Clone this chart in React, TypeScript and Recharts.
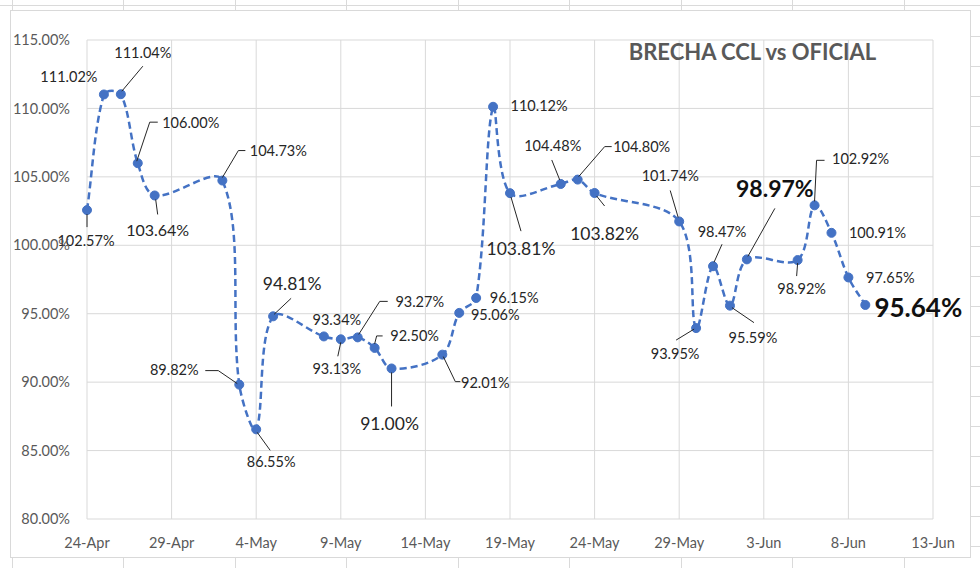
import { CartesianGrid, Line, LineChart, XAxis, YAxis } from 'recharts';

// trading days (2023) and CCL vs official gap, in %
const dates = [
  '2023-04-24', '2023-04-25', '2023-04-26', '2023-04-27', '2023-04-28',
  '2023-05-02', '2023-05-03', '2023-05-04', '2023-05-05',
  '2023-05-08', '2023-05-09', '2023-05-10', '2023-05-11', '2023-05-12',
  '2023-05-15', '2023-05-16', '2023-05-17', '2023-05-18', '2023-05-19',
  '2023-05-22', '2023-05-23', '2023-05-24',
  '2023-05-29', '2023-05-30', '2023-05-31', '2023-06-01', '2023-06-02',
  '2023-06-05', '2023-06-06', '2023-06-07', '2023-06-08', '2023-06-09',
];
const brecha = [
  102.57, 111.02, 111.04, 106.0, 103.64,
  104.73, 89.82, 86.55, 94.81,
  93.34, 93.13, 93.27, 92.5, 91.0,
  92.01, 95.06, 96.15, 110.12, 103.81,
  104.48, 104.8, 103.82,
  101.74, 93.95, 98.47, 95.59, 98.97,
  98.92, 102.92, 100.91, 97.65, 95.64,
];
const yTicks = [80, 85, 90, 95, 100, 105, 110, 115];
const xTicks = [0, 5, 10, 15, 20, 25, 30, 35, 40, 45, 50];
const monthNames = ['Jan', 'Feb', 'Mar', 'Apr', 'May', 'Jun', 'Jul', 'Aug', 'Sep', 'Oct', 'Nov', 'Dec'];
const title = 'BRECHA CCL vs OFICIAL';

const DAY = 86400000;
const start = Date.parse(dates[0] + 'T00:00:00Z');
const data = dates.map((d, i) => ({
  day: Math.round((Date.parse(d + 'T00:00:00Z') - start) / DAY),
  v: brecha[i],
}));

// label placement, like the hand-moved excel labels (offsets from the point)
type LabelPos = { dx: number; dy: number; fs?: number; bold?: boolean; lead?: number[]; tail?: number };
const labelPos: LabelPos[] = [
  { dx: -1, dy: 30, lead: [0, 4, 0, 17] },
  { dx: -35, dy: -18 },
  { dx: 22, dy: -42, lead: [1, -3, 22, -28] },
  { dx: 53, dy: -41, lead: [-1, -2, 12, -41], tail: 20 },
  { dx: 3, dy: 34, fs: 16, lead: [1, 4, 3, 19] },
  { dx: 56, dy: -30, lead: [0, -3, 16, -30], tail: 23 },
  { dx: -65, dy: -15, lead: [-2, -1, -21, -14], tail: -34 },
  { dx: 15, dy: 32, lead: [1, 3, 14, 21] },
  { dx: 19, dy: -33, fs: 17.5, lead: [1, -2, 18, -18] },
  { dx: 13, dy: -17 },
  { dx: -4, dy: 29, lead: [0, 3, -3, 17] },
  { dx: 62, dy: -36, lead: [1, -3, 22, -36], tail: 30 },
  { dx: 40, dy: -12, lead: [0, -4, 2, -12], tail: 8 },
  { dx: -2, dy: 55, fs: 17.5, lead: [0, 4, 0, 38] },
  { dx: 43, dy: 28, lead: [1, 2, 13, 27], tail: 18 },
  { dx: 36, dy: 2 },
  { dx: 38, dy: 0 },
  { dx: 46, dy: -1 },
  { dx: 11, dy: 55, fs: 17.5, lead: [1, 4, 11, 38] },
  { dx: -8, dy: -38, lead: [-1, -4, -9, -24] },
  { dx: 64, dy: -33, lead: [1, -3, 27, -33], tail: 34 },
  { dx: 10, dy: 40, fs: 17.5, lead: [2, 3, 10, 13] },
  { dx: -9, dy: -46, lead: [-1, -4, -9, -31] },
  { dx: -21, dy: 25, lead: [-2, 1, -20, 12] },
  { dx: 9, dy: -35, lead: [1, -4, 9, -22] },
  { dx: 23, dy: 32, lead: [2, 2, 24, 17] },
  { dx: 28, dy: -71, fs: 23, bold: true, lead: [1, -3, 28, -51] },
  { dx: 4, dy: 28, lead: [0, 3, -1, 16] },
  { dx: 46, dy: -47, lead: [0, -4, 2, -45], tail: 10 },
  { dx: 46, dy: 0 },
  { dx: 42, dy: 0 },
  { dx: 53, dy: 2, fs: 26, bold: true },
];

const FONT = 'Lato, "Open Sans", sans-serif';
const BLUE = '#4472C4';
const LABEL_FS = 14.5;

// excel-like smoothed line: tangent through neighbours, split by segment length
const smoothCurve = (context: any) => {
  let pts: number[][] = [];
  return {
    areaStart() {},
    areaEnd() {},
    lineStart() {
      pts = [];
    },
    lineEnd() {
      if (!pts.length) return;
      const n = pts.length;
      const dist = (a: number[], b: number[]) => Math.hypot(b[0] - a[0], b[1] - a[1]);
      // out / in control points for each point
      const outC: number[][] = [];
      const inC: number[][] = [];
      for (let i = 0; i < n; i++) {
        const prev = pts[i - 1] || pts[i];
        const next = pts[i + 1] || pts[i];
        const tx = next[0] - prev[0];
        const ty = next[1] - prev[1];
        const dPrev = i > 0 ? dist(prev, pts[i]) : 0;
        const dNext = i < n - 1 ? dist(pts[i], next) : 0;
        const sum = dPrev + dNext || 1;
        const fo = (dNext / sum) / 3;
        const fi = (dPrev / sum) / 3;
        outC.push([pts[i][0] + tx * fo, pts[i][1] + ty * fo]);
        inC.push([pts[i][0] - tx * fi, pts[i][1] - ty * fi]);
      }
      context.moveTo(pts[0][0], pts[0][1]);
      for (let i = 0; i < n - 1; i++) {
        context.bezierCurveTo(outC[i][0], outC[i][1], inC[i + 1][0], inC[i + 1][1], pts[i + 1][0], pts[i + 1][1]);
      }
    },
    point(x: number, y: number) {
      pts.push([+x, +y]);
    },
  };
};

const fmtDay = (d: number) => {
  const dt = new Date(start + d * DAY);
  return `${dt.getUTCDate()}-${monthNames[dt.getUTCMonth()]}`;
};

const DotWithLabel = (props: any) => {
  const { cx, cy, index, value } = props;
  const p = labelPos[index] || { dx: 0, dy: -15 };
  const val = Array.isArray(value) ? value[1] : value;
  const lead = p.lead;
  return (
    <g key={`pt-${index}`}>
      <circle cx={cx} cy={cy} r={4.5} fill={BLUE} stroke={BLUE} />
      {lead && (
        <polyline
          points={
            `${cx + lead[0]},${cy + lead[1]} ${cx + lead[2]},${cy + lead[3]}` +
            (p.tail !== undefined ? ` ${cx + p.tail},${cy + lead[3]}` : '')
          }
          fill="none"
          stroke="#262626"
          strokeWidth={1}
        />
      )}
      <text
        x={cx + p.dx}
        y={cy + p.dy}
        textAnchor="middle"
        dominantBaseline="central"
        fontFamily={FONT}
        fontSize={p.fs || LABEL_FS}
        fontWeight={p.bold ? 700 : 400}
        fill={p.bold ? '#111' : '#262626'}
      >
        {val.toFixed(2)}%
      </text>
    </g>
  );
};

const colLines = [12, 123, 235, 346, 458, 569, 681, 792, 904];
const rowLines = [36, 66, 96, 126, 156, 186, 216, 246, 276, 306, 336, 366, 396, 426, 456, 486, 516, 546];

export default function App() {
  return (
    <div style={{ position: 'absolute', left: 0, top: 0, width: 980, height: 568, background: '#fff', overflow: 'hidden' }}>
      {/* spreadsheet cells behind the chart */}
      <div style={{ position: 'absolute', left: 0, top: 5, width: 980, height: 1, background: '#dadada' }} />
      {colLines.map((x) => (
        <div key={`c${x}`} style={{ position: 'absolute', left: x, top: 0, width: 1, height: 568, background: '#dadada' }} />
      ))}
      {rowLines.map((y) => (
        <div key={`r${y}`} style={{ position: 'absolute', left: 960, top: y, width: 20, height: 1, background: '#dadada' }} />
      ))}
      <div
        style={{
          position: 'absolute', left: 10, top: 10, width: 959, height: 546,
          border: '1px solid #d9d9d9', background: '#fff',
        }}
      />
      <div style={{ position: 'absolute', left: 0, top: 0 }}>
        <LineChart
          width={980}
          height={568}
          data={data}
          margin={{ top: 40, right: 47, left: 10, bottom: 19 }}
          style={{ fontFamily: FONT }}
        >
          <CartesianGrid stroke="#d9d9d9" strokeWidth={1} />
          <XAxis
            dataKey="day"
            type="number"
            domain={[0, 50]}
            ticks={xTicks}
            tickFormatter={fmtDay}
            axisLine={false}
            tickLine={false}
            tickMargin={13}
            height={30}
            interval={0}
            tick={{ fill: '#595959', fontSize: 14.5, fontFamily: FONT }}
          />
          <YAxis
            type="number"
            domain={[80, 115]}
            ticks={yTicks}
            tickFormatter={(v: number) => `${v.toFixed(2)}%`}
            axisLine={false}
            tickLine={false}
            width={77}
            tickMargin={11}
            interval={0}
            tick={{ fill: '#595959', fontSize: 14.5, fontFamily: FONT }}
          />
          <Line
            dataKey="v"
            type={smoothCurve as any}
            stroke={BLUE}
            strokeWidth={2.5}
            strokeDasharray="7 4"
            dot={DotWithLabel}
            activeDot={false}
            isAnimationActive={false}
          />
        </LineChart>
      </div>
      <div
        style={{
          position: 'absolute', left: 580, top: 37, width: 345, textAlign: 'center',
          fontFamily: FONT, fontWeight: 700, fontSize: 22, color: '#595959', lineHeight: '30px',
        }}
      >
        {title}
      </div>
    </div>
  );
}
